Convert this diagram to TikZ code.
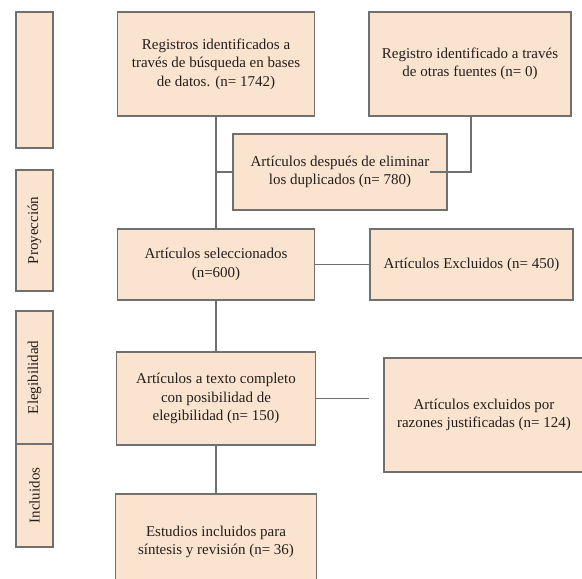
\documentclass[tikz,border=0pt]{standalone}
\usepackage{fontspec}
\setmainfont{Liberation Serif}
\definecolor{boxfill}{RGB}{250,228,208}
\definecolor{boxline}{RGB}{112,112,112}
\definecolor{txt}{RGB}{35,30,28}
\begin{document}
\begin{tikzpicture}[x=1pt,y=-1pt,
  box/.style={draw=boxline, line width=1.4pt, fill=boxfill, text=txt, align=center,
    inner sep=0pt, font=\fontsize{15}{18.5}\selectfont},
  side/.style={box, minimum width=37pt},
  conn/.style={draw=boxline, line width=1.4pt}]
\useasboundingbox (0,0) rectangle (582,579);
\begin{scope}
\clip (0,0) rectangle (582,579);
% side labels
\node[side, minimum height=136pt] (s1) at (34.5,80) {};
\node[side, minimum height=121pt] (s2) at (34.5,230.5) {\rotatebox{90}{Proyección}};
\node[side, minimum height=133pt] (s3) at (34.5,377.5) {\rotatebox{90}{Elegibilidad}};
\node[side, minimum height=103pt] (s4) at (34.5,495.5) {\rotatebox{90}{Incluidos}};
% main boxes
\node[box, minimum width=197pt, minimum height=104pt] (A) at (216,64)
  {Registros identificados a\\través de búsqueda en bases\\de datos. (n= 1742)};
\node[box, minimum width=202pt, minimum height=104pt] (B) at (470,64)
  {Registro identificado a través\\de otras fuentes (n= 0)};
\node[box, minimum width=214pt, minimum height=76pt] (C) at (340,172)
  {Artículos después de eliminar\\los duplicados (n= 780)};
\node[box, minimum width=197pt, minimum height=71pt] (D) at (216,264.5)
  {Artículos seleccionados\\(n=600)};
\node[box, minimum width=203pt, minimum height=71pt] (E) at (471.5,264.5)
  {Artículos Excluidos (n= 450)};
\node[box, minimum width=199pt, minimum height=93pt] (F) at (216,398.5)
  {Artículos a texto completo\\con posibilidad de\\elegibilidad (n= 150)};
\node[box, minimum width=200pt, minimum height=114pt] (G) at (484,415)
  {Artículos excluidos por\\razones justificadas (n= 124)};
\node[box, minimum width=201pt, minimum height=96pt] (H) at (216,542)
  {Estudios incluidos para\\síntesis y revisión (n= 36)};
% connectors
\coordinate (jA) at (216,172);
\coordinate (bturn) at (471,172);
\coordinate (bend) at (430,172);
\coordinate (fend) at (369,398.5);
\draw[conn] (A.south) -- (D.north);
\draw[conn] (jA) -- (C.west);
\draw[conn] (B.south -| bturn) -- (bturn) -- (bend);
\draw[conn] (D.east) -- (E.west);
\draw[conn] (D.south) -- (F.north);
\draw[conn] (F.east) -- (fend);
\draw[conn] (F.south) -- (H.north);
\end{scope}
\end{tikzpicture}
\end{document}
